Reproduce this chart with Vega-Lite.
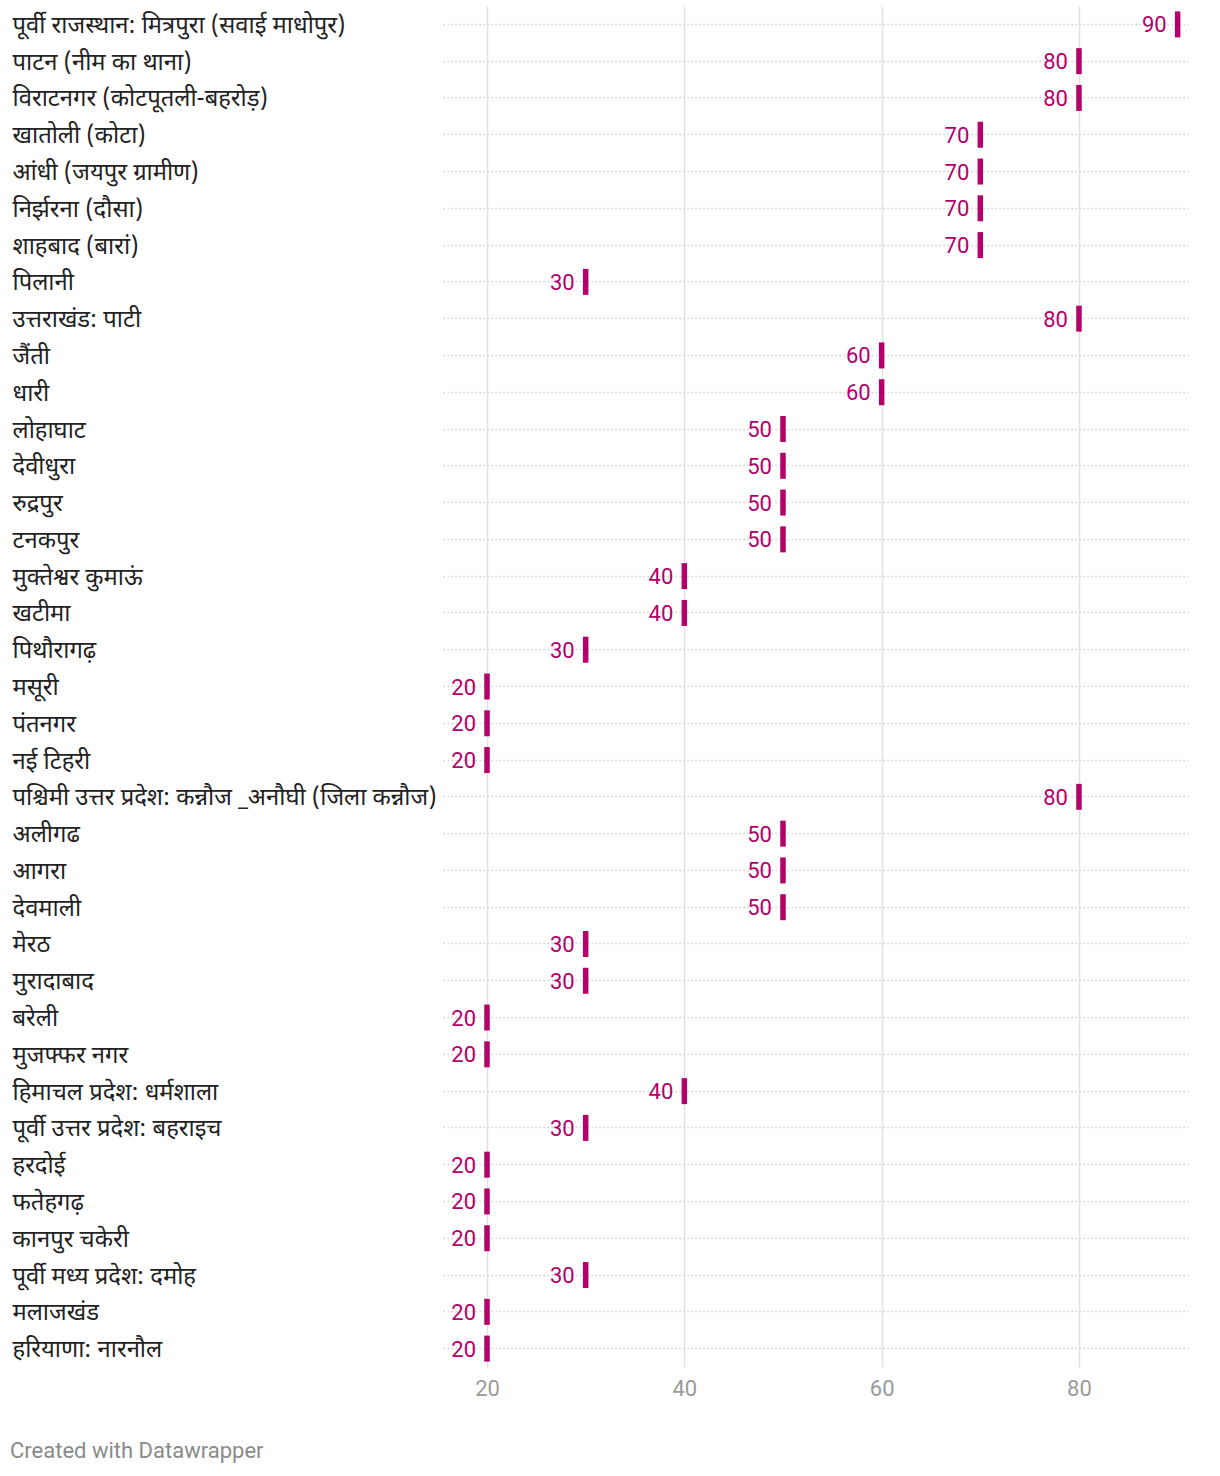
{
  "$schema": "https://vega.github.io/schema/vega-lite/v6.json",
  "width": 745,
  "height": 1361,
  "autosize": {"type": "none"},
  "padding": {"left": 443, "top": 6, "right": 32, "bottom": 109},
  "background": "#ffffff",
  "title": {
    "text": "Created with Datawrapper",
    "orient": "bottom",
    "anchor": "start",
    "frame": "bounds",
    "dx": -2,
    "offset": 42,
    "font": "Roboto",
    "fontSize": 22,
    "fontWeight": "normal",
    "color": "#8a8a8a"
  },
  "data": {
    "values": [
      {"label": "पूर्वी राजस्थान: मित्रपुरा (सवाई माधोपुर)", "value": 90},
      {"label": "पाटन (नीम का थाना)", "value": 80},
      {"label": "विराटनगर (कोटपूतली-बहरोड़)", "value": 80},
      {"label": "खातोली (कोटा)", "value": 70},
      {"label": "आंधी (जयपुर ग्रामीण)", "value": 70},
      {"label": "निर्झरना (दौसा)", "value": 70},
      {"label": "शाहबाद (बारां)", "value": 70},
      {"label": "पिलानी", "value": 30},
      {"label": "उत्तराखंड: पाटी", "value": 80},
      {"label": "जैंती", "value": 60},
      {"label": "धारी", "value": 60},
      {"label": "लोहाघाट", "value": 50},
      {"label": "देवीधुरा", "value": 50},
      {"label": "रुद्रपुर", "value": 50},
      {"label": "टनकपुर", "value": 50},
      {"label": "मुक्तेश्वर कुमाऊं", "value": 40},
      {"label": "खटीमा", "value": 40},
      {"label": "पिथौरागढ़", "value": 30},
      {"label": "मसूरी", "value": 20},
      {"label": "पंतनगर", "value": 20},
      {"label": "नई टिहरी", "value": 20},
      {"label": "पश्चिमी उत्तर प्रदेश: कन्नौज _अनौघी (जिला कन्नौज)", "value": 80},
      {"label": "अलीगढ", "value": 50},
      {"label": "आगरा", "value": 50},
      {"label": "देवमाली", "value": 50},
      {"label": "मेरठ", "value": 30},
      {"label": "मुरादाबाद", "value": 30},
      {"label": "बरेली", "value": 20},
      {"label": "मुजफ्फर नगर", "value": 20},
      {"label": "हिमाचल प्रदेश: धर्मशाला", "value": 40},
      {"label": "पूर्वी उत्तर प्रदेश: बहराइच", "value": 30},
      {"label": "हरदोई", "value": 20},
      {"label": "फतेहगढ़", "value": 20},
      {"label": "कानपुर चकेरी", "value": 20},
      {"label": "पूर्वी मध्य प्रदेश: दमोह", "value": 30},
      {"label": "मलाजखंड", "value": 20},
      {"label": "हरियाणा: नारनौल", "value": 20}
    ]
  },
  "encoding": {
    "y": {
      "field": "label",
      "type": "nominal",
      "sort": null,
      "scale": {"paddingInner": 0, "paddingOuter": 0},
      "axis": {
        "title": null,
        "domain": false,
        "ticks": false,
        "bandPosition": 0.5,
        "grid": true,
        "gridColor": "#cfcfcf",
        "gridDash": [1.5, 2.5],
        "gridWidth": 1.5,
        "labelAlign": "left",
        "labelPadding": 431,
        "labelLimit": 600,
        "labelOffset": 1.5,
        "labelFont": "Noto Sans Devanagari, Noto Sans, sans-serif",
        "labelFontSize": 23.8,
        "labelColor": "#222222"
      }
    },
    "x": {
      "field": "value",
      "type": "quantitative",
      "scale": {"domain": [15.54, 91.05], "nice": false, "zero": false},
      "axis": {
        "title": null,
        "domain": false,
        "ticks": false,
        "values": [20, 40, 60, 80],
        "grid": true,
        "gridColor": "#e2e2e2",
        "gridWidth": 1.5,
        "labelPadding": 11,
        "labelFont": "Roboto",
        "labelFontSize": 22,
        "labelColor": "#9a9a9a"
      }
    }
  },
  "layer": [
    {
      "mark": {"type": "tick", "thickness": 5.5, "size": 26, "color": "#b3006b", "opacity": 1}
    },
    {
      "mark": {"type": "text", "align": "right", "baseline": "middle", "dx": -11, "dy": 1, "font": "Roboto", "fontSize": 22, "color": "#b3006b"},
      "encoding": {"text": {"field": "value", "type": "quantitative"}}
    }
  ],
  "config": {"view": {"stroke": null}}
}
